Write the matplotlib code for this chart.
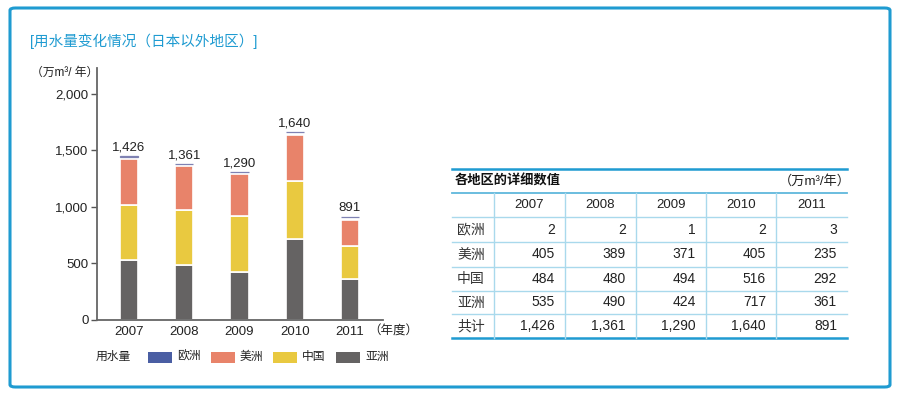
import matplotlib
matplotlib.use("Agg")
import matplotlib.pyplot as plt
from matplotlib.patches import FancyBboxPatch, Rectangle
from matplotlib.lines import Line2D

plt.rcParams['font.family'] = ['Liberation Sans', 'Noto Sans CJK SC', 'DejaVu Sans']

years = ['2007', '2008', '2009', '2010', '2011']
europe = [2, 2, 1, 2, 3]
america = [405, 389, 371, 405, 235]
china = [484, 480, 494, 516, 292]
asia = [535, 490, 424, 717, 361]
totals = [1426, 1361, 1290, 1640, 891]
total_labels = ['1,426', '1,361', '1,290', '1,640', '891']
yticks = [0, 500, 1000, 1500, 2000]
ytick_labels = ['0', '500', '1,000', '1,500', '2,000']
series_names = ['欧洲', '美洲', '中国', '亚洲']
row_labels = ['欧洲', '美洲', '中国', '亚洲', '共计']

C_EU = '#4a5ea3'
C_AM = '#e8836a'
C_CN = '#e9c940'
C_AS = '#656363'
BLUE = '#1f9bd1'
LIGHT = '#a9d9ec'

W, H = 900, 396
fig = plt.figure(figsize=(9, 3.96), dpi=100)

def fx(x):
    return x / W

def fy(y):
    return 1 - y / H

# outer border
fig.patches.append(FancyBboxPatch((fx(10), fy(387)), fx(880), (379) / H,
                                  boxstyle="round,pad=0,rounding_size=0.006",
                                  transform=fig.transFigure, fill=False,
                                  edgecolor=BLUE, linewidth=2.2))

fig.text(fx(30), fy(41), '[用水量变化情况（日本以外地区）]', color=BLUE,
         fontsize=10.5, va='center', ha='left')

# chart axes
ax = fig.add_axes([fx(97), fy(320), fx(383 - 97), (320 - 68) / H])
x = list(range(len(years)))
bw = 0.33
b1 = asia
b2 = [a + c for a, c in zip(asia, china)]
b3 = [a + c + m for a, c, m in zip(asia, china, america)]
ax.bar(x, asia, bw, color=C_AS, edgecolor='white', linewidth=1.2)
ax.bar(x, china, bw, bottom=b1, color=C_CN, edgecolor='white', linewidth=1.2)
ax.bar(x, america, bw, bottom=b2, color=C_AM, edgecolor='white', linewidth=1.2)
ax.bar(x, europe, bw, bottom=[b + 22 for b in b3], color='#7f82b3', edgecolor='#7f82b3', linewidth=0.9)
for xi, t, lab in zip(x, totals, total_labels):
    ax.text(xi, t + 45, lab, ha='center', va='bottom', fontsize=9.5, color='#222222')

ax.set_xlim(-0.58, 4.6)
ax.set_ylim(0, 2230)
ax.set_yticks(yticks)
ax.set_yticklabels(ytick_labels)
ax.set_xticks(x)
ax.set_xticklabels(years)
ax.tick_params(axis='y', direction='out', length=4, width=1, color='#555555',
               labelsize=9.5, labelcolor='#222222', pad=2)
ax.tick_params(axis='x', length=0, labelsize=9.5, labelcolor='#222222', pad=4)
for s in ['top', 'right']:
    ax.spines[s].set_visible(False)
for s in ['left', 'bottom']:
    ax.spines[s].set_color('#666666')
    ax.spines[s].set_linewidth(1.3)

fig.text(fx(31), fy(73), '（万m³/ 年）', fontsize=8.5, va='center', ha='left', color='#222222')
fig.text(fx(368), fy(332), '（年度）', fontsize=9, va='center', ha='left', color='#222222')

# legend
fig.text(fx(96), fy(357), '用水量', fontsize=8.5, va='center', ha='left', color='#222222')
leg_x = [148, 211, 273, 336]
for lx, name, col in zip(leg_x, series_names, [C_EU, C_AM, C_CN, C_AS]):
    fig.patches.append(Rectangle((fx(lx), fy(363)), fx(24), 11 / H,
                                 transform=fig.transFigure, facecolor=col, edgecolor='none'))
    fig.text(fx(lx + 29), fy(357), name, fontsize=8.5, va='center', ha='left', color='#222222')

# table
tl, tr = 452, 847
vlines = [494, 565, 636, 706, 776]
hl_rows = [193, 217, 242, 267, 291, 314, 338]

def hline(y, col, lw):
    fig.lines.append(Line2D([fx(tl), fx(tr)], [fy(y), fy(y)], transform=fig.transFigure,
                            color=col, linewidth=lw))

hline(169, BLUE, 1.8)
for yy in hl_rows[1:-1]:
    hline(yy, LIGHT, 1.0)
hline(193, '#5fb7dc', 1.3)
hline(338, BLUE, 1.8)
for vx in vlines:
    fig.lines.append(Line2D([fx(vx), fx(vx)], [fy(193), fy(338)], transform=fig.transFigure,
                            color=LIGHT, linewidth=1.0))

fig.text(fx(455), fy(181), '各地区的详细数值', fontsize=9.5, fontweight='bold',
         va='center', ha='left', color='#111111')
fig.text(fx(851), fy(181), '（万m³/年）', fontsize=9.5, va='center', ha='right', color='#222222')

col_edges = vlines + [tr]
for i, yr in enumerate(years):
    cx = (col_edges[i] + col_edges[i + 1]) / 2
    fig.text(fx(cx), fy(205), yr, fontsize=9.5, va='center', ha='center', color='#222222')

table_rows = [europe, america, china, asia]
row_text = [[f'{v:,}' for v in r] for r in table_rows] + [total_labels]
for r, (lab, vals) in enumerate(zip(row_labels, row_text)):
    yc = (hl_rows[r + 1] + hl_rows[r + 2]) / 2
    fig.text(fx(457), fy(yc), lab, fontsize=10, va='center', ha='left', color='#333333')
    for i, v in enumerate(vals):
        fig.text(fx(col_edges[i + 1] - 10), fy(yc), v, fontsize=10, va='center',
                 ha='right', color='#222222')

fig.savefig('out.png', dpi=100)
